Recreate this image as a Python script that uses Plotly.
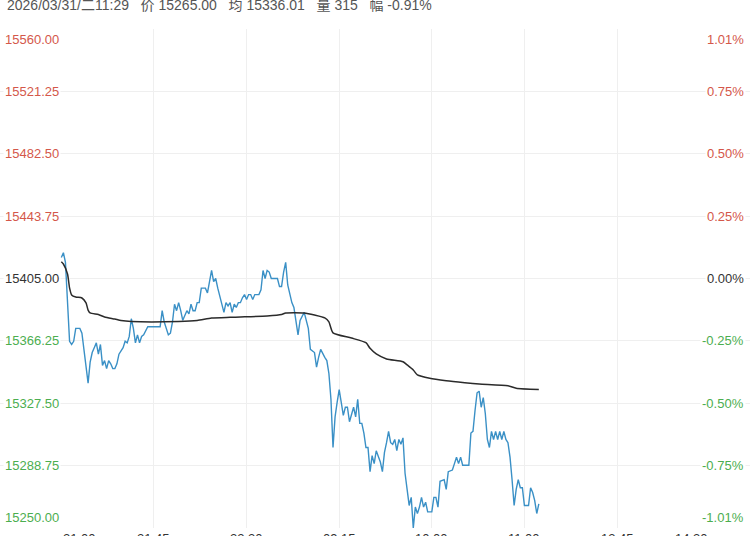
import plotly.graph_objects as go

# ---------------- data ----------------
prev_close = 15405.0
header_parts = ["2026/03/31/二11:29", "价 15265.00", "均 15336.01", "量 315", "幅 -0.91%"]

# minute index since 21:00 (trading minutes)
time_ticks = [0, 45, 90, 135, 180, 225, 270, 315]
time_labels = ["21:00", "21:45", "22:30", "09:15", "10:00", "11:00", "13:45", "14:30"]

price_idx = [0,1,2,4,5,6,7,9,10,11,13,14,15,16,17,18,19,20,21,22,23,24,25,26,27,28,30,31,32,33,34,35,36,37,38,39,40,42,48,49,50,52,53,54,55,56,57,58,59,61,62,63,64,65,66,67,68,70,71,72,73,74,75,76,77,78,79,80,81,82,83,84,85,86,87,88,89,90,91,92,93,94,95,96,97,98,99,100,101,102,103,105,106,107,108,109,110,111,112,113,114,115,116,117,118,120,121,123,124,125,126,128,129,130,131,132,133,134,135,136,137,138,139,140,141,142,143,144,145,146,147,148,149,150,151,152,153,155,156,157,158,159,160,161,162,163,164,165,166,167,168,169,170,171,172,173,174,175,176,177,178,179,180,181,182,183,184,186,187,188,190,191,192,193,194,195,196,198,199,200,201,202,203,204,205,206,207,208,209,210,211,212,213,214,215,216,217,218,219,220,221,222,223,224,225,226,227,228,229,230,231,232]
price_val = [15418,15421,15415,15366,15364,15366,15374,15374,15371,15360,15340,15353,15359,15362,15365,15358,15364,15351,15354,15349,15354,15352,15349,15349,15352,15358,15362,15366,15365,15369,15380,15374,15365,15370,15365,15369,15370,15375,15375,15385,15378,15370,15371,15378,15389,15385,15390,15385,15379,15385,15383,15389,15385,15385,15390,15390,15399,15399,15396,15403,15410,15403,15405,15399,15394,15390,15384,15390,15388,15390,15384,15389,15387,15390,15390,15393,15395,15392,15395,15395,15392,15395,15395,15395,15398,15410,15405,15410,15409,15405,15405,15405,15400,15400,15409,15415,15401,15395,15390,15387,15378,15370,15379,15382,15384,15374,15361,15359,15350,15356,15361,15356,15354,15346,15330,15300,15319,15328,15336,15328,15320,15325,15325,15316,15320,15325,15319,15330,15315,15315,15309,15300,15300,15285,15295,15290,15298,15291,15285,15297,15303,15310,15303,15302,15305,15298,15305,15302,15306,15284,15274,15264,15269,15250,15263,15259,15263,15269,15263,15266,15260,15260,15260,15269,15269,15263,15279,15280,15274,15285,15286,15290,15294,15290,15294,15289,15289,15289,15309,15310,15323,15334,15335,15325,15331,15321,15305,15300,15310,15305,15310,15305,15310,15305,15310,15305,15303,15294,15280,15264,15274,15280,15275,15275,15264,15264,15264,15275,15272,15267,15259,15265]

avg_idx = [0,1,3,4,5,7,10,12,13,14,18,21,26,29,34,57,66,73,82,87,100,107,109,118,123,128,130,132,141,148,150,153,158,166,168,171,173,179,187,196,203,217,221,232]
avg_val = [15415.4,15414.0,15407.8,15399.1,15394.8,15393.5,15392.9,15389.8,15385.4,15383.6,15382.6,15381.1,15379.8,15378.9,15378.3,15378.3,15378.9,15380.5,15380.9,15381.1,15381.7,15382.6,15383.6,15383.6,15382.3,15380.5,15378.0,15371.2,15368.0,15365.1,15361.6,15358.1,15355.0,15353.3,15351.3,15348.2,15345.1,15343.0,15341.5,15340.3,15339.5,15338.4,15336.8,15336.01]

price_ticks = [15560.00, 15521.25, 15482.50, 15443.75, 15405.00, 15366.25, 15327.50, 15288.75, 15250.00]
pct_labels = ["1.01%", "0.75%", "0.50%", "0.25%", "0.00%", "-0.25%", "-0.50%", "-0.75%", "-1.01%"]

# ---------------- style ----------------
RED = "#d4574a"
GREEN = "#4cae4f"
NEUTRAL = "#333333"
FONT = "Liberation Sans, Arial, Noto Sans CJK SC, sans-serif"

fig = go.Figure()
fig.add_trace(go.Scatter(x=price_idx, y=price_val, mode="lines",
                         line=dict(color="#3a90c6", width=1.4), hoverinfo="skip"))
fig.add_trace(go.Scatter(x=avg_idx, y=avg_val, mode="lines",
                         line=dict(color="#2b2b2b", width=1.5, shape="spline", smoothing=0.6),
                         hoverinfo="skip"))

fig.add_shape(type="line", xref="paper", x0=0, x1=1, yref="y", y0=prev_close, y1=prev_close,
              line=dict(color="#a0a0a0", width=1, dash="4px,4px"), layer="below")

annotations = []
n = len(price_ticks)
for i, (v, pl) in enumerate(zip(price_ticks, pct_labels)):
    col = RED if v > prev_close else (GREEN if v < prev_close else NEUTRAL)
    if i == 0:
        ya, ys = "top", -1
    elif i == n - 1:
        ya, ys = "bottom", 1
    else:
        ya, ys = "middle", 0
    annotations.append(dict(xref="paper", x=0, xanchor="left", xshift=3, yref="y", y=v,
                            yanchor=ya, yshift=ys, text=f"{v:.2f}", showarrow=False,
                            font=dict(color=col, size=13, family=FONT), bgcolor="white", borderpad=1))
    annotations.append(dict(xref="paper", x=1, xanchor="right", xshift=-4, yref="y", y=v,
                            yanchor=ya, yshift=ys, text=pl, showarrow=False,
                            font=dict(color=col, size=13, family=FONT), bgcolor="white", borderpad=1))

for i, (t, lab) in enumerate(zip(time_ticks, time_labels)):
    xa = "left" if i == 0 else ("right" if i == len(time_ticks) - 1 else "center")
    annotations.append(dict(xref="x", x=t, xanchor=xa, yref="paper", y=0, yanchor="middle",
                            yshift=-10, text=lab, showarrow=False,
                            font=dict(color=NEUTRAL, size=13, family=FONT)))

gap = "\u00a0" * 3
annotations.append(dict(xref="paper", x=0, xanchor="left", xshift=5, yref="paper", y=1,
                        yanchor="middle", yshift=24, text=gap.join(header_parts), showarrow=False,
                        font=dict(color="#555555", size=14, family=FONT)))

fig.update_layout(
    width=750, height=536,
    margin=dict(l=0, r=0, t=29, b=8),
    paper_bgcolor="white", plot_bgcolor="white",
    showlegend=False,
    annotations=annotations,
    xaxis=dict(range=[-29.8, 334.6], tickvals=time_ticks[1:-1], showticklabels=False,
               showgrid=True, gridcolor="#efefef", gridwidth=1, zeroline=False, showline=False,
               fixedrange=True),
    yaxis=dict(range=[15250, 15560], tickvals=price_ticks, showticklabels=False,
               showgrid=True, gridcolor="#efefef", gridwidth=1, zeroline=False, showline=False,
               fixedrange=True),
)

fig.write_html("out.html", config={"displayModeBar": False},
               post_script="document.body.style.margin='0';")
